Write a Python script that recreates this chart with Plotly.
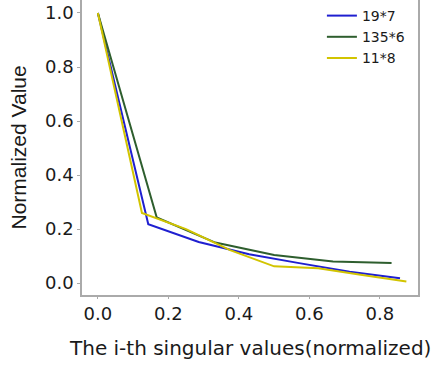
import plotly.graph_objects as go

x_19x7 = [0.0, 0.143, 0.286, 0.429, 0.571, 0.714, 0.857]
y_19x7 = [1.0, 0.218, 0.152, 0.107, 0.074, 0.042, 0.018]

x_135x6 = [0.0, 0.167, 0.333, 0.5, 0.667, 0.833]
y_135x6 = [1.0, 0.243, 0.150, 0.104, 0.080, 0.074]

x_11x8 = [0.0, 0.125, 0.25, 0.375, 0.5, 0.625, 0.75, 0.875]
y_11x8 = [1.0, 0.26, 0.20, 0.122, 0.062, 0.055, 0.030, 0.006]

names = ["19*7", "135*6", "11*8"]
colors = ["#1f1fd0", "#2e5e2e", "#d2c400"]

x_ticks = [0.0, 0.2, 0.4, 0.6, 0.8]
y_ticks = [0.0, 0.2, 0.4, 0.6, 0.8, 1.0]

fig = go.Figure()
for xs, ys, n, c in zip([x_19x7, x_135x6, x_11x8], [y_19x7, y_135x6, y_11x8], names, colors):
    fig.add_trace(go.Scatter(x=xs, y=ys, mode="lines", name=n,
                             line=dict(color=c, width=2)))

font = "DejaVu Sans"
fig.update_layout(
    width=431, height=366,
    margin=dict(l=82, r=13, t=0, b=71),
    paper_bgcolor="white", plot_bgcolor="white",
    font=dict(family=font, color="#1a1a1a"),
    showlegend=True,
    legend=dict(x=0.714, y=1.0, xanchor="left", yanchor="top",
                bgcolor="rgba(0,0,0,0)", font=dict(size=14, family=font),
                tracegroupgap=0),
    xaxis=dict(range=[-0.045, 0.908], tickvals=x_ticks,
               ticktext=[f"{v:.1f}" for v in x_ticks],
               showgrid=False, zeroline=False, showline=True, mirror=True,
               linecolor="#aaaaaa", linewidth=1.5, automargin=False,
               ticks="outside", ticklen=2, tickcolor="#aaaaaa",
               tickfont=dict(size=18)),
    yaxis=dict(range=[-0.044, 1.048], tickvals=y_ticks,
               ticktext=[f"{v:.1f}" for v in y_ticks],
               showgrid=False, zeroline=False, showline=True, mirror=True,
               linecolor="#aaaaaa", linewidth=1.5, automargin=False,
               ticks="outside", ticklen=3, tickcolor="#aaaaaa",
               tickfont=dict(size=18)),
    annotations=[
        dict(text="The i-th singular values(normalized)", xref="paper", yref="paper",
             x=0.5, y=0, xanchor="center", yanchor="middle", yshift=-53,
             showarrow=False, font=dict(size=20)),
        dict(text="Normalized Value", xref="paper", yref="paper",
             x=0, y=0.5, xanchor="center", yanchor="middle", xshift=-64,
             textangle=-90, showarrow=False,
             font=dict(size=21, family="Liberation Sans")),
    ],
)

fig.write_html("out.html", config={"displayModeBar": False},
               post_script="document.body.style.margin='0';document.body.style.padding='0';")
